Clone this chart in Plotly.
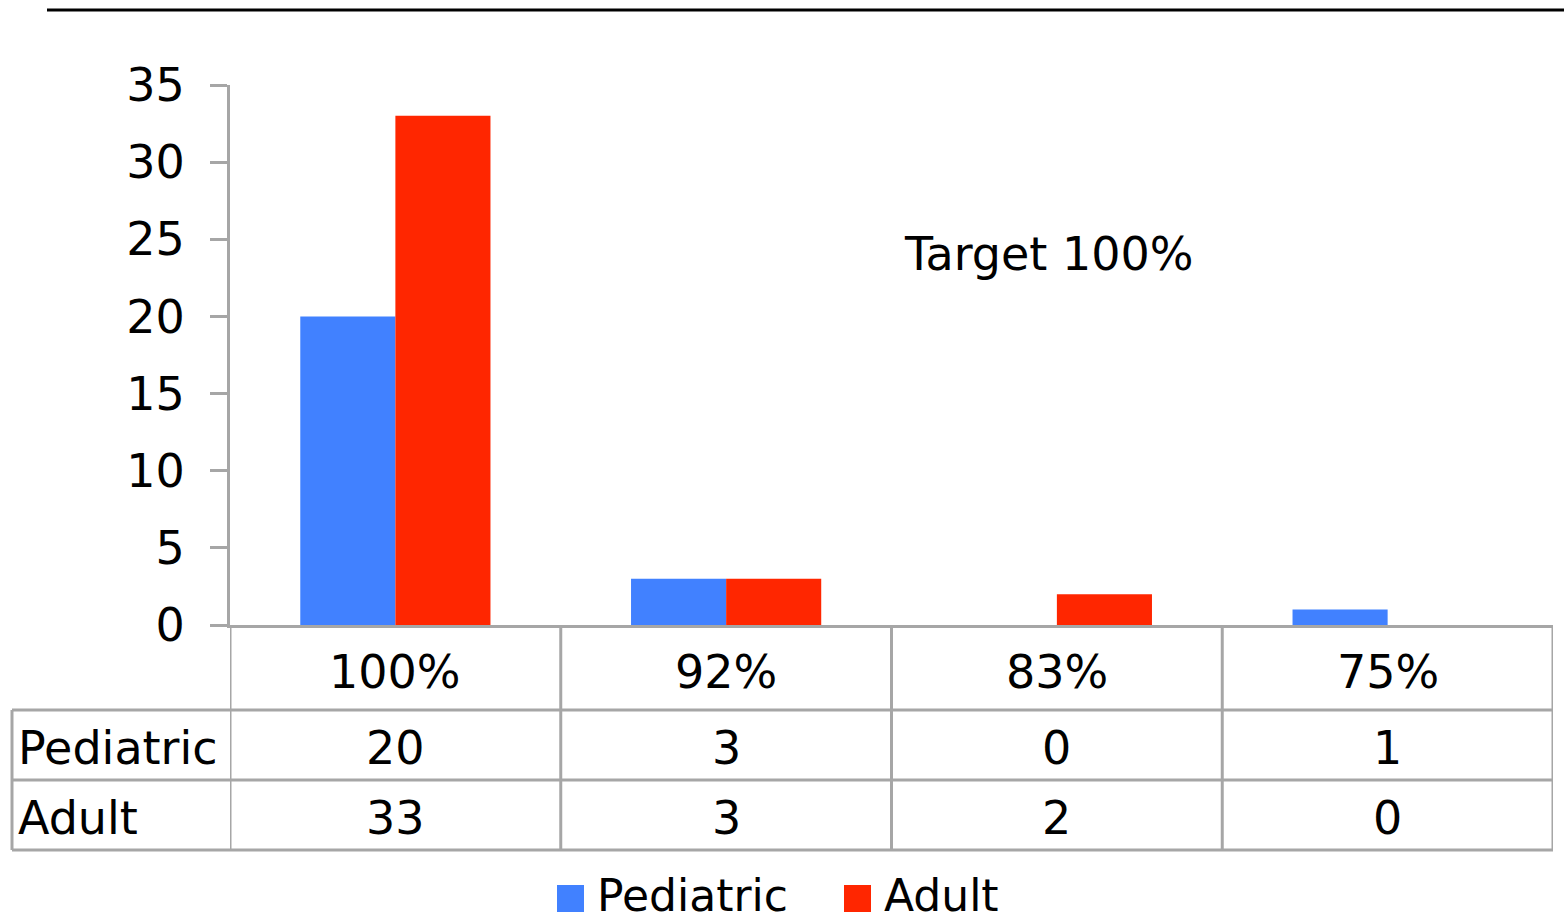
import plotly.graph_objects as go

# Data
categories = ["100%", "92%", "83%", "75%"]
series_names = ["Pediatric", "Adult"]
pediatric = [20, 3, 0, 1]
adult = [33, 3, 2, 0]
y_ticks = [0, 5, 10, 15, 20, 25, 30, 35]

BLUE = "#4181FF"
RED = "#FF2600"
GRID = "#A6A6A6"
FONT = "DejaVu Sans"
FS = 46

W, H = 1564, 924
L, R, T, B = 230, 11, 85, 299
PW, PH = W - L - R, H - T - B


def px_x(p):
    return (p - L) / PW


def px_y(p):
    return (H - B - p) / PH


fig = go.Figure()
fig.add_trace(go.Bar(x=categories, y=pediatric, name=series_names[0],
                     marker=dict(color=BLUE, line=dict(width=0))))
fig.add_trace(go.Bar(x=categories, y=adult, name=series_names[1],
                     marker=dict(color=RED, line=dict(width=0))))

shapes = []
line = dict(color=GRID, width=3)

# Table horizontal rules
for yp in (710, 780, 850):
    shapes.append(dict(type="line", xref="paper", yref="paper",
                       x0=px_x(12), x1=1, y0=px_y(yp), y1=px_y(yp), line=line))
# Table vertical rules at category boundaries
for i in range(len(categories) + 1):
    shapes.append(dict(type="line", xref="x", yref="paper",
                       x0=i - 0.5, x1=i - 0.5, y0=0, y1=px_y(850), line=line))
# Left edge of row-label column
shapes.append(dict(type="line", xref="paper", yref="paper",
                   x0=px_x(12), x1=px_x(12), y0=px_y(710), y1=px_y(850), line=line))
# Top rule
shapes.append(dict(type="line", xref="paper", yref="paper",
                   x0=px_x(47), x1=px_x(1564), y0=px_y(10), y1=px_y(10),
                   line=dict(color="black", width=3)))

annotations = []
txt = dict(family=FONT, size=FS, color="black")
for i, c in enumerate(categories):
    annotations.append(dict(x=c, y=px_y(672), xref="x", yref="paper", text=c,
                            showarrow=False, font=txt, xanchor="center", yanchor="middle"))
    annotations.append(dict(x=c, y=px_y(748), xref="x", yref="paper", text=str(pediatric[i]),
                            showarrow=False, font=txt, xanchor="center", yanchor="middle"))
    annotations.append(dict(x=c, y=px_y(818), xref="x", yref="paper", text=str(adult[i]),
                            showarrow=False, font=txt, xanchor="center", yanchor="middle"))
for name, yp in zip(series_names, (748, 818)):
    annotations.append(dict(x=px_x(16), y=px_y(yp), xref="paper", yref="paper", text=name,
                            showarrow=False, font=txt, xanchor="left", yanchor="middle"))

annotations.append(dict(x=px_x(1048), y=px_y(254), xref="paper", yref="paper",
                        text="Target 100%", showarrow=False,
                        font=dict(family=FONT, size=46, color="black"),
                        xanchor="center", yanchor="middle"))

# Legend
leg_font = dict(family=FONT, size=44, color="black")
for color, name, sx, tx in ((BLUE, series_names[0], 557, 595), (RED, series_names[1], 844, 882)):
    shapes.append(dict(type="rect", xref="paper", yref="paper",
                       x0=px_x(sx), x1=px_x(sx + 27), y0=px_y(912), y1=px_y(885),
                       fillcolor=color, line=dict(width=0)))
    annotations.append(dict(x=px_x(tx), y=px_y(895), xref="paper", yref="paper", text=name,
                            showarrow=False, font=leg_font, xanchor="left", yanchor="middle"))

fig.update_layout(
    width=W, height=H,
    margin=dict(l=L, r=R, t=T, b=B, autoexpand=False),
    paper_bgcolor="white", plot_bgcolor="white",
    barmode="group", bargap=0.425, bargroupgap=0,
    showlegend=False,
    shapes=shapes, annotations=annotations,
    font=dict(family=FONT, size=FS, color="black"),
    xaxis=dict(showticklabels=False, showgrid=False, zeroline=False,
               showline=True, linecolor=GRID, linewidth=3, ticks="",
               range=[-0.5, len(categories) - 0.5]),
    yaxis=dict(range=[0, 35], tickvals=y_ticks, showgrid=False, zeroline=False,
               showline=True, linecolor=GRID, linewidth=3,
               ticks="outside", ticklen=17, tickwidth=3, tickcolor=GRID,
               tickfont=dict(family=FONT, size=FS, color="black"),
               ticklabelstandoff=16),
)

fig.write_html("out.html")
